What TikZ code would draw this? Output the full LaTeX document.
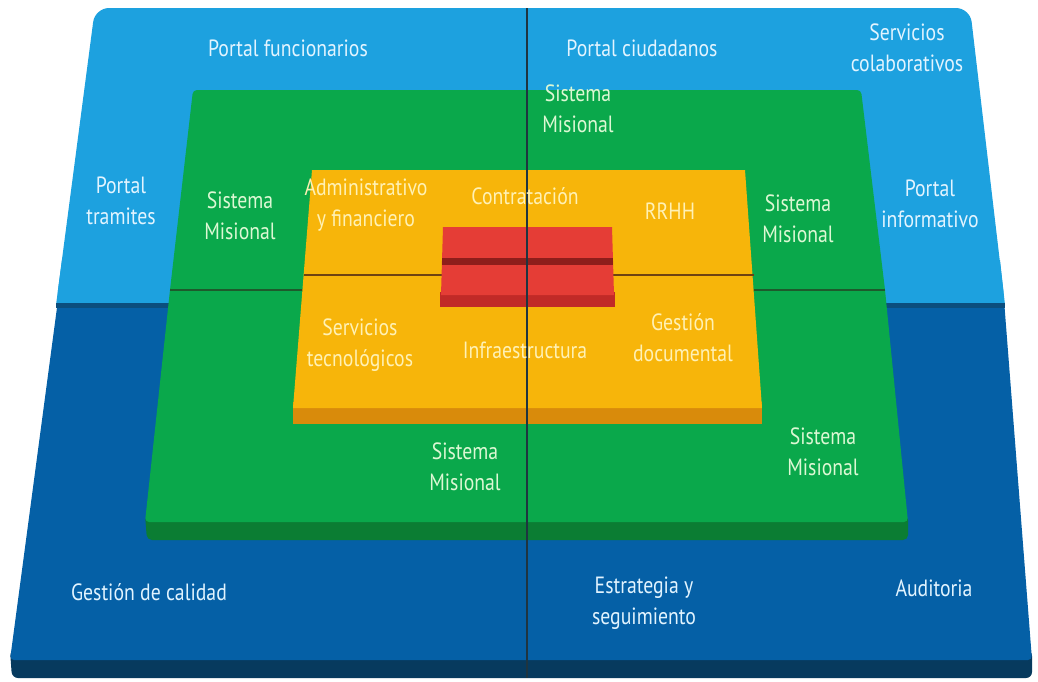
\documentclass[tikz,border=0pt]{standalone}
\usepackage{fontspec}
\setmainfont{PT Sans}[FakeStretch=0.84]
\definecolor{bluelight}{HTML}{1DA1DF}
\definecolor{bluedark}{HTML}{0560A6}
\definecolor{navy}{HTML}{073A5E}
\definecolor{bandblue}{HTML}{0B4E7E}
\definecolor{greenmain}{HTML}{0AA84B}
\definecolor{greendark}{HTML}{0B7D33}
\definecolor{greenline}{HTML}{1E5A2C}
\definecolor{yellowmain}{HTML}{F7B50A}
\definecolor{yellowdark}{HTML}{D98B0B}
\definecolor{yellowline}{HTML}{6E4212}
\definecolor{redmain}{HTML}{E53D36}
\definecolor{reddark}{HTML}{C12A27}
\definecolor{redstripe}{HTML}{8E1E1B}
\definecolor{axisline}{HTML}{1F3540}
\definecolor{bluetext}{HTML}{E2F4FF}
\definecolor{greentext}{HTML}{DDF8D4}
\definecolor{yellowtext}{HTML}{FFF1B5}
\tikzset{
  lbl/.style={align=center, inner sep=0pt, font=\fontsize{23.5}{31}\selectfont},
  onblue/.style={lbl, text=bluetext},
  ongreen/.style={lbl, text=greentext},
  onyellow/.style={lbl, text=yellowtext},
}
\begin{document}
\begin{tikzpicture}[x=1pt,y=-1pt]
\useasboundingbox (0,0) rectangle (1038,681);
% outer blue slab: shadow
\fill[navy, rounded corners=6pt] (10,650) -- (1032,650) -- (1032,678) -- (12,678) -- cycle;
% dark blue lower half
\fill[bluedark, rounded corners=4pt] (58,300) -- (1004,300) -- (1032,660) -- (10,660) -- cycle;
% light blue upper half
\fill[bluelight, rounded corners=14pt] (56,305) -- (95,8) -- (970,8) -- (1005,305) -- cycle;
\fill[bluelight] (56,305) -- (62,260) -- (1000,260) -- (1005,305) -- cycle;
\fill[bandblue] (56,303) rectangle (1005,308);
% green slab
\fill[greendark, rounded corners=5pt] (145,515) -- (908,515) -- (908,540) -- (147,540) -- cycle;
\fill[greenmain, rounded corners=4pt] (193,90) -- (861,90) -- (885,290) -- (908,522) -- (145,522) -- (170,290) -- cycle;
\coordinate (gl) at (170,290);
\coordinate (gr) at (885,290);
\draw[greenline, line width=2.5pt] (gl) -- (gr);
% yellow slab
\fill[yellowdark] (293,402) -- (762,402) -- (762,424) -- (293,424) -- cycle;
\fill[yellowmain] (312,170) -- (745,170) -- (762,408) -- (293,408) -- cycle;
\coordinate (yl) at (304,275);
\coordinate (yr) at (754,275);
\draw[yellowline, line width=2pt] (yl) -- (yr);
% red block
\fill[reddark] (440,292) -- (615,292) -- (615,307) -- (440,307) -- cycle;
\fill[redmain] (443,227) -- (612,227) -- (614,295) -- (441,295) -- cycle;
\fill[redstripe] (442,258) -- (613,258) -- (613,265) -- (442,265) -- cycle;
% vertical axis
\coordinate (vt) at (527,8);
\coordinate (vb) at (527,678);
\draw[axisline, line width=1.6pt] (vt) -- (vb);
% labels on blue
\node[onblue] (pfun) at (288,48) {Portal funcionarios};
\node[onblue] (pciu) at (642,48) {Portal ciudadanos};
\node[onblue] (scol) at (907,48) {Servicios\\colaborativos};
\node[onblue] (ptra) at (121,201) {Portal\\tramites};
\node[onblue] (pinf) at (930,204) {Portal\\informativo};
\node[onblue] (gcal) at (149,592) {Gestión de calidad};
\node[onblue] (eseg) at (644,603) {Estrategia y\\seguimiento};
\node[onblue] (audi) at (934,588) {Auditoria};
% labels on green
\node[ongreen] (sm1) at (240,216) {Sistema\\Misional};
\node[ongreen] (sm2) at (578,109) {Sistema\\Misional};
\node[ongreen] (sm3) at (798,219) {Sistema\\Misional};
\node[ongreen] (sm4) at (465,467) {Sistema\\Misional};
\node[ongreen] (sm5) at (823,452) {Sistema\\Misional};
% labels on yellow
\node[onyellow] (admf) at (366,205) {Administrativo\\y financiero};
\node[onyellow] (cont) at (525,196) {Contratación};
\node[onyellow] (rrhh) at (670,211) {RRHH};
\node[onyellow] (stec) at (360,345) {Servicios\\tecnológicos};
\node[onyellow] (infr) at (525,350) {Infraestructura};
\node[onyellow] (gdoc) at (683,338) {Gestión\\documental};
\end{tikzpicture}
\end{document}
